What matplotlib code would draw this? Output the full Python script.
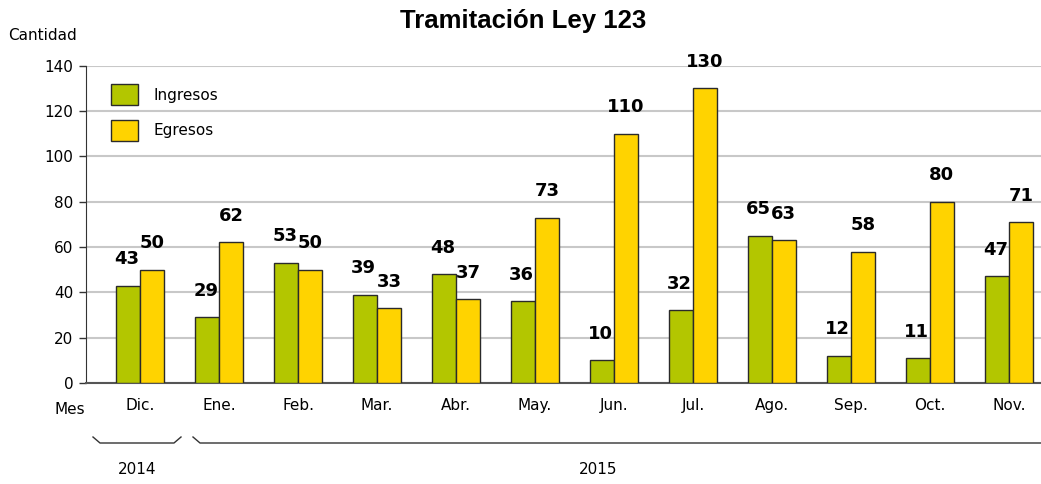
import matplotlib
matplotlib.use("Agg")
import matplotlib.pyplot as plt
from matplotlib.lines import Line2D
import numpy as np

meses = ["Dic.", "Ene.", "Feb.", "Mar.", "Abr.", "May.", "Jun.", "Jul.", "Ago.", "Sep.", "Oct.", "Nov."]
ingresos = [43, 29, 53, 39, 48, 36, 10, 32, 65, 12, 11, 47]
egresos = [50, 62, 50, 33, 37, 73, 110, 130, 63, 58, 80, 71]
yticks = [0, 20, 40, 60, 80, 100, 120, 140]
anios = ["2014", "2015"]

GREEN = "#b3c600"
YELLOW = "#ffd300"
FONT = "DejaVu Sans"

fig = plt.figure(figsize=(10.41, 4.84), dpi=100)
ax = fig.add_axes([86/1041, 101/484, 1 - 86/1041, (383-65.7)/484])

x = np.arange(len(meses))
w = 0.30
ax.bar(x - w/2, ingresos, width=w, color=GREEN, edgecolor="#2a2a2a", linewidth=1, label="Ingresos", zorder=3)
ax.bar(x + w/2, egresos, width=w, color=YELLOW, edgecolor="#2a2a2a", linewidth=1, label="Egresos", zorder=3)

for xi, v in zip(x - w/2, ingresos):
    ax.annotate(str(v), (xi, v), xytext=(-1, 19), textcoords="offset points",
                ha="center", va="center", fontsize=13, fontweight="bold", family=FONT)
for xi, v in zip(x + w/2, egresos):
    ax.annotate(str(v), (xi, v), xytext=(0, 19), textcoords="offset points",
                ha="center", va="center", fontsize=13, fontweight="bold", family=FONT)

ax.set_xlim(-0.684, 11.405)
ax.set_ylim(0, 140)
ax.set_yticks(yticks)
ax.set_yticklabels([str(t) for t in yticks], fontsize=11, family=FONT)
ax.set_xticks(x)
ax.set_xticklabels(meses, fontsize=11, family=FONT)
ax.tick_params(axis="x", length=0, pad=11)
ax.tick_params(axis="y", length=5, width=1, color="#333333", pad=4)
ax.grid(axis="y", color="#c8c8c8", linewidth=1.5, zorder=0)
ax.set_axisbelow(True)
for s in ["top", "right"]:
    ax.spines[s].set_visible(False)
ax.spines["left"].set_color("#333333")
ax.spines["bottom"].set_color("#555555")
ax.spines["bottom"].set_linewidth(1.5)

leg = ax.legend(loc="upper left", bbox_to_anchor=(0.0105, 0.99), frameon=False,
                prop={"family": FONT, "size": 11}, handlelength=1.75, handleheight=1.75,
                labelspacing=0.95, handletextpad=1.0, borderaxespad=0.6)

fig.text(523/1041, 1 - 21/484, "Tramitación Ley 123", ha="center", va="center",
         fontsize=18.5, fontweight="bold", family="Liberation Sans")
fig.text(8/1041, 1 - 36/484, "Cantidad", ha="left", va="center", fontsize=11, family=FONT)
fig.text(54/1041, 1 - 409/484, "Mes", ha="left", va="center", fontsize=11, family=FONT)

# year brackets
def bracket(x0, x1, closed):
    if closed:
        xs = [x0, x0 + 7, x1 - 7, x1]
        ys = [437, 443, 443, 437]
    else:
        xs = [x0, x0 + 7, x1]
        ys = [437, 443, 443]
    fig.add_artist(Line2D([v/1041 for v in xs], [1 - v/484 for v in ys],
                          color="#333333", linewidth=1, transform=fig.transFigure))

bracket(93, 181, True)
bracket(193, 1041, False)
fig.text(137/1041, 1 - 470/484, anios[0], ha="center", va="center", fontsize=11, family=FONT)
fig.text(598/1041, 1 - 470/484, anios[1], ha="center", va="center", fontsize=11, family=FONT)

fig.savefig("out.png", dpi=100)
